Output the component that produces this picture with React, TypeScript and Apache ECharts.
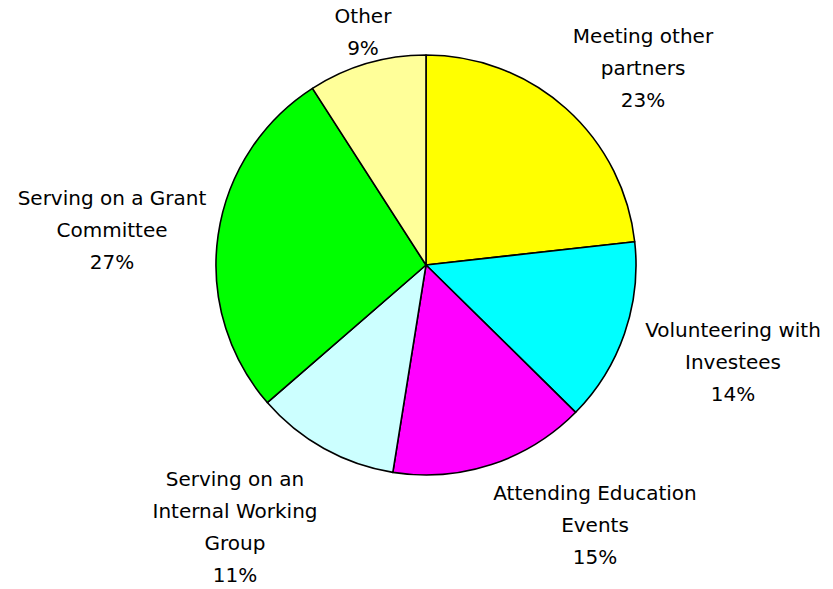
import React, { useEffect, useRef } from "react";
import * as echarts from "echarts";

const categories = [
  "Meeting other\npartners",
  "Volunteering with\nInvestees",
  "Attending Education\nEvents",
  "Serving on an\nInternal Working\nGroup",
  "Serving on a Grant\nCommittee",
  "Other",
];
const percents = [23, 14, 15, 11, 27, 9];
const colors = ["#FFFF00", "#00FFFF", "#FF00FF", "#CCFFFF", "#00FF00", "#FFFF99"];
// label block centres (layout only)
const labelCenters = [
  [643, 68],
  [733, 362],
  [595, 525],
  [235, 527],
  [112, 230],
  [363, 32],
];

export default function App() {
  const ref = useRef<HTMLDivElement>(null);
  useEffect(() => {
    if (!ref.current) return;
    const chart = echarts.init(ref.current, null, { renderer: "svg" });
    chart.setOption({
      animation: false,
      backgroundColor: "#ffffff",
      series: [
        {
          type: "pie",
          center: [426, 265],
          radius: [0, 210],
          startAngle: 90,
          clockwise: true,
          avoidLabelOverlap: false,
          itemStyle: { borderColor: "#000000", borderWidth: 1.6 },
          label: {
            show: true,
            position: "outside",
            formatter: (p: any) => `${p.name}\n${p.value}%`,
            fontFamily: "DejaVu Sans",
            fontSize: 20,
            lineHeight: 32,
            color: "#000000",
            align: "center",
          },
          labelLine: { show: false },
          labelLayout: (params: any) => {
            const c = labelCenters[params.dataIndex];
            return { x: c[0], y: c[1], align: "center", verticalAlign: "middle" };
          },
          data: categories.map((name, i) => ({
            name,
            value: percents[i],
            itemStyle: { color: colors[i] },
          })),
        },
      ],
    });
    return () => chart.dispose();
  }, []);
  return (
    <div
      ref={ref}
      style={{ position: "absolute", left: 0, top: 0, width: 833, height: 589 }}
    />
  );
}
